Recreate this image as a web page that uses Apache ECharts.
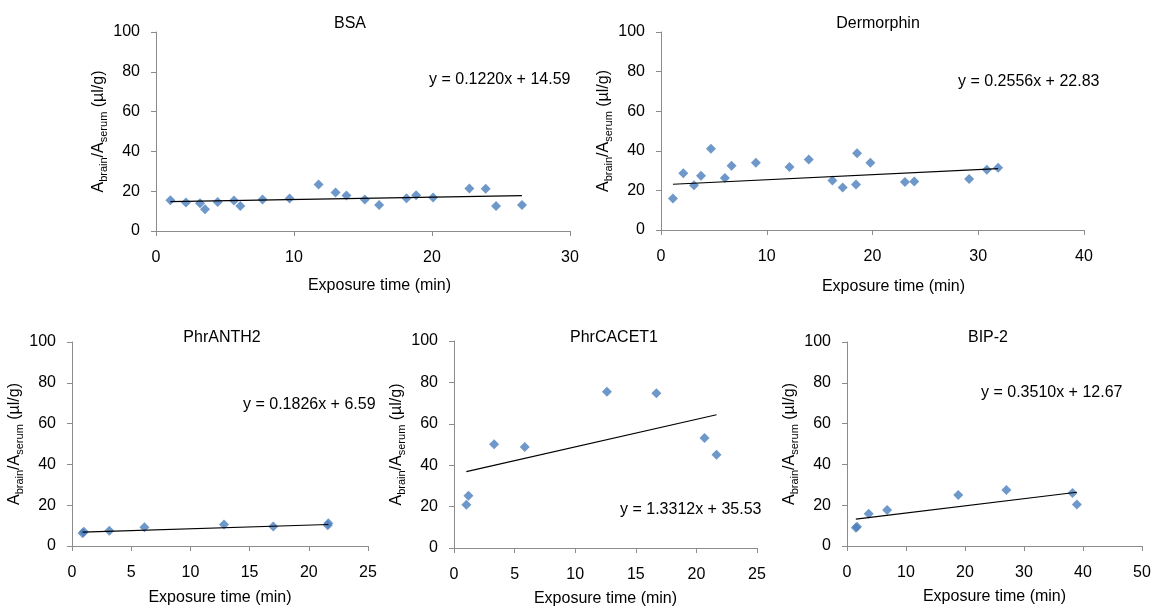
<!DOCTYPE html>
<html>
<head>
<meta charset="utf-8">
<title>Brain uptake vs exposure time</title>
<script src="https://cdn.jsdelivr.net/npm/echarts@6/dist/echarts.min.js"></script>
<style>
  html, body { margin: 0; padding: 0; background: #fff; }
  #chart { width: 1152px; height: 607px; }
</style>
</head>
<body>
<div id="chart"></div>
<script>
// Exposure time (min) and brain/serum ratio (µl/g) for each compound
const bsaTime  = [1.04, 2.17, 3.19, 3.55, 4.47, 5.65, 6.11, 7.72, 9.68, 11.78, 13.01, 13.80, 15.13, 16.17, 18.15, 18.85, 20.08, 22.71, 23.89, 24.64, 26.52];
const bsaRatio = [15.5, 14.3, 13.9, 10.9, 14.6, 15.3, 12.6, 15.8, 16.3, 23.4, 19.3, 17.8, 15.8, 13.1, 16.5, 18.0, 16.8, 21.3, 21.2, 12.6, 13.1];

const dermTime  = [1.13, 2.11, 3.12, 3.78, 4.72, 6.04, 6.67, 8.97, 12.15, 13.97, 16.21, 17.18, 18.44, 18.54, 19.80, 23.07, 23.95, 29.14, 30.81, 31.88];
const dermRatio = [15.9, 28.7, 22.6, 27.4, 41.0, 26.2, 32.4, 34.0, 31.8, 35.6, 25.0, 21.5, 23.0, 38.7, 34.0, 24.2, 24.5, 25.8, 30.4, 31.4];

const anthTime  = [0.9, 1.0, 3.15, 6.12, 12.84, 17.0, 21.6, 21.65];
const anthRatio = [6.3, 7.0, 7.5, 9.2, 10.5, 9.6, 10.2, 11.2];

const cacetTime  = [1.02, 1.19, 3.31, 5.84, 12.62, 16.70, 20.67, 21.66];
const cacetRatio = [20.9, 25.3, 50.1, 48.8, 75.5, 74.7, 53.1, 45.1];

const bipTime  = [1.5, 1.7, 3.68, 6.80, 18.86, 27.01, 38.22, 38.96];
const bipRatio = [8.9, 9.4, 15.8, 17.6, 25.0, 27.5, 26.0, 20.4];

// Linear fits: slope and intercept, as printed on each panel
const panelNames = ['BSA', 'Dermorphin', 'PhrANTH2', 'PhrCACET1', 'BIP-2'];
const fitSlope     = [0.1220, 0.2556, 0.1826, 1.3312, 0.3510];
const fitIntercept = [14.59, 22.83, 6.59, 35.53, 12.67];

// Axis ranges
const xMax      = [30, 40, 25, 25, 50];
const xInterval = [10, 10, 5, 5, 10];
const yMax = 100;
const yInterval = 20;

const times  = [bsaTime, dermTime, anthTime, cacetTime, bipTime];
const ratios = [bsaRatio, dermRatio, anthRatio, cacetRatio, bipRatio];

// Panel placement on the page
const layout = [
  { left: 156, top: 32,  width: 414, height: 199, titleX: 350, titleY: 24,  eqX: 429, eqY: 80,  xNameGap: 47, xNameShift: 33 },
  { left: 661, top: 32,  width: 423, height: 198, titleX: 878, titleY: 24,  eqX: 958, eqY: 82,  xNameGap: 49, xNameShift: 42 },
  { left: 72,  top: 342, width: 296, height: 204, titleX: 222, titleY: 338, eqX: 243, eqY: 405, xNameGap: 44, xNameShift: 0 },
  { left: 454, top: 341, width: 303, height: 207, titleX: 614, titleY: 338, eqX: 620, eqY: 510, xNameGap: 43, xNameShift: 0 },
  { left: 847, top: 342, width: 295, height: 204, titleX: 988, titleY: 338, eqX: 981, eqY: 393, xNameGap: 43, xNameShift: 0 }
];

const FONT = 'Liberation Sans, Arial, Helvetica, sans-serif';
const AXIS_GREY = '#8c8c8c';
const MARKER_BLUE = '#4A7EBB';

function fmtEquation(i) {
  return 'y = ' + fitSlope[i].toFixed(4) + 'x + ' + fitIntercept[i].toFixed(2);
}

const grids = [], xAxes = [], yAxes = [], series = [], titles = [];

panelNames.forEach((name, i) => {
  const L = layout[i];
  grids.push({ left: L.left, top: L.top, width: L.width, height: L.height, containLabel: false, outerBoundsMode: 'none' });

  xAxes.push({
    gridIndex: i, type: 'value', min: 0, max: xMax[i], interval: xInterval[i],
    name: 'Exposure time (min)', nameLocation: 'middle', nameGap: L.xNameGap,
    nameTextStyle: { fontFamily: FONT, fontSize: 16, color: '#000', padding: [0, 0, 0, L.xNameShift] },
    axisLine: { show: true, onZero: false, lineStyle: { color: AXIS_GREY, width: 1 } },
    axisTick: { show: true, inside: false, length: 5, lineStyle: { color: AXIS_GREY } },
    axisLabel: { fontFamily: FONT, fontSize: 16, color: '#000', margin: 19 },
    splitLine: { show: false }
  });

  yAxes.push({
    gridIndex: i, type: 'value', min: 0, max: yMax, interval: yInterval,
    name: '{m|A}{s|brain}{m|/A}{s|serum}{m| (µl/g)}',
    nameLocation: 'middle', nameRotate: 90, nameGap: 46,
    nameTextStyle: {
      fontFamily: FONT, color: '#000',
      rich: {
        m: { fontFamily: FONT, fontSize: 16, lineHeight: 22, color: '#000' },
        s: { fontFamily: FONT, fontSize: 11, lineHeight: 11, color: '#000', verticalAlign: 'bottom' }
      }
    },
    axisLine: { show: true, onZero: false, lineStyle: { color: AXIS_GREY, width: 1 } },
    axisTick: { show: true, inside: false, length: 5, lineStyle: { color: AXIS_GREY } },
    axisLabel: { fontFamily: FONT, fontSize: 16, color: '#000', margin: 16 },
    splitLine: { show: false }
  });

  // measured points
  series.push({
    name: name, type: 'scatter', xAxisIndex: i, yAxisIndex: i,
    symbol: 'diamond', symbolSize: 10,
    itemStyle: { color: MARKER_BLUE },
    data: times[i].map((t, k) => [t, ratios[i][k]]),
    z: 2
  });

  // fitted line across the measured time range
  const t0 = Math.min(...times[i]);
  const t1 = Math.max(...times[i]);
  series.push({
    name: name + ' fit', type: 'line', xAxisIndex: i, yAxisIndex: i,
    symbol: 'none', silent: true,
    lineStyle: { color: '#000', width: 1.2 },
    data: [[t0, fitSlope[i] * t0 + fitIntercept[i]], [t1, fitSlope[i] * t1 + fitIntercept[i]]],
    z: 3
  });

  titles.push({
    text: name, left: L.titleX, top: L.titleY, textAlign: 'center', textVerticalAlign: 'middle', padding: 0,
    textStyle: { fontFamily: FONT, fontSize: 16, fontWeight: 'normal', color: '#000' }
  });
  titles.push({
    text: fmtEquation(i), left: L.eqX, top: L.eqY, textAlign: 'left', textVerticalAlign: 'middle', padding: 0,
    textStyle: { fontFamily: FONT, fontSize: 16, fontWeight: 'normal', color: '#000' }
  });
});

const chart = echarts.init(document.getElementById('chart'), null, { renderer: 'canvas' });
chart.setOption({
  backgroundColor: '#fff',
  animation: false,
  textStyle: { fontFamily: FONT },
  title: titles,
  grid: grids,
  xAxis: xAxes,
  yAxis: yAxes,
  series: series
});
</script>
</body>
</html>
